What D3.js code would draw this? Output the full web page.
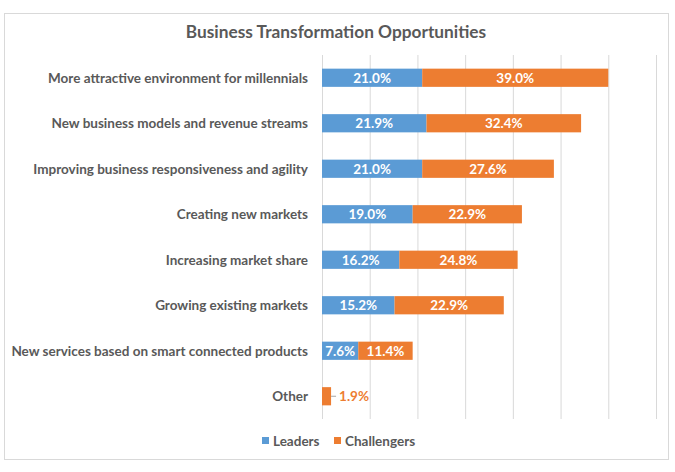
<!DOCTYPE html>
<html><head><meta charset="utf-8">
<script src="https://cdn.jsdelivr.net/npm/d3@7"></script>
<style>body{margin:0;background:#fff;}svg{display:block;font-family:Lato,"Open Sans",sans-serif;}</style>
</head><body><svg id="c" width="675" height="472"></svg>
<script>
const categories = ["More attractive environment for millennials","New business models and revenue streams","Improving business responsiveness and agility","Creating new markets","Increasing market share","Growing existing markets","New services based on smart connected products","Other"];
const leaders = [21.0,21.9,21.0,19.0,16.2,15.2,7.6,0];
const challengers = [39.0,32.4,27.6,22.9,24.8,22.9,11.4,1.9];
const seriesNames = ["Leaders","Challengers"];
const colors = ["#5B9BD5","#ED7D31"];
const xTicks = [0,10,20,30,40,50,60,70];

const svg = d3.select("#c");
svg.append("rect").attr("x",4.5).attr("y",13.5).attr("width",664).attr("height",446).attr("fill","#fff").attr("stroke","#d9d9d9");
svg.append("text").attr("x",336).attr("y",38).attr("text-anchor","middle").attr("font-size",17.3).attr("font-weight","bold").attr("fill","#595959").text("Business Transformation Opportunities");

const x = d3.scaleLinear().domain([0,70]).range([322,656]);
const y = d3.scaleBand().domain(categories).range([55,419]).paddingInner(0.6).paddingOuter(0.3);

svg.append("g").selectAll("line").data(xTicks).join("line")
  .attr("x1",d=>x(d)+0.5).attr("x2",d=>x(d)+0.5).attr("y1",55).attr("y2",419).attr("stroke","#d9d9d9");

const data = categories.map((c,i)=>({cat:c,Leaders:leaders[i],Challengers:challengers[i]}));
const stack = d3.stack().keys(seriesNames)(data);
const g = svg.append("g");
stack.forEach((s,si)=>{
  g.selectAll(null).data(s).join("rect")
    .attr("x",d=>x(d[0])).attr("width",d=>x(d[1])-x(d[0]))
    .attr("y",d=>y(d.data.cat)).attr("height",y.bandwidth()).attr("fill",colors[si]);
  s.forEach(d=>{
    const v = d[1]-d[0];
    if (v<=0) return;
    const w = x(d[1])-x(d[0]);
    if (w>30) {
      g.append("text").attr("x",(x(d[0])+x(d[1]))/2).attr("y",y(d.data.cat)+y.bandwidth()/2+5)
        .attr("text-anchor","middle").attr("font-size",13.5).attr("font-weight","bold").attr("fill","#fff").text(v.toFixed(1)+"%");
    } else {
      const xe = x(d[1]), yc = y(d.data.cat)+y.bandwidth()/2;
      g.append("line").attr("x1",xe).attr("x2",xe+5).attr("y1",yc).attr("y2",yc).attr("stroke","#a6a6a6");
      g.append("text").attr("x",xe+8).attr("y",yc+5).attr("font-size",13.5).attr("font-weight","bold").attr("fill",colors[si]).text(v.toFixed(1)+"%");
    }
  });
});

svg.append("g").selectAll("text").data(categories).join("text")
  .attr("x",308).attr("y",d=>y(d)+y.bandwidth()/2+5).attr("text-anchor","end")
  .attr("font-size",13.5).attr("font-weight","bold").attr("fill","#595959").text(d=>d);

const lg = svg.append("g");
const lx = [262,334];
seriesNames.forEach((n,i)=>{
  lg.append("rect").attr("x",lx[i]).attr("y",437).attr("width",7).attr("height",7).attr("fill",colors[i]);
  lg.append("text").attr("x",lx[i]+11).attr("y",445.5).attr("font-size",13.5).attr("font-weight","bold").attr("fill","#595959").text(n);
});
</script></body></html>
